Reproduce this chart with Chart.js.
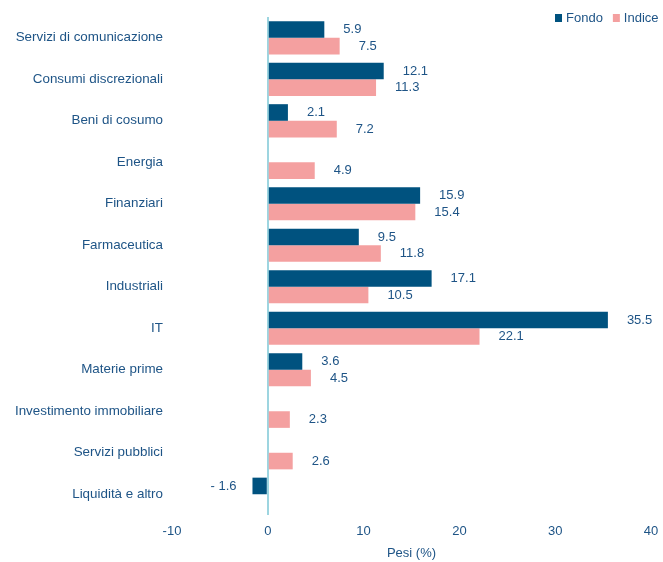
<!DOCTYPE html>
<html>
<head>
<meta charset="utf-8">
<script src="https://cdn.jsdelivr.net/npm/chart.js@4/dist/chart.umd.min.js"></script>
<style>
  html, body { margin: 0; padding: 0; background: #fff; }
  #wrap { width: 663px; height: 562px; }
</style>
</head>
<body>
<div id="wrap"><canvas id="pesi-chart"></canvas></div>
<script>
// dati
const categories = [
  'Servizi di comunicazione',
  'Consumi discrezionali',
  'Beni di cosumo',
  'Energia',
  'Finanziari',
  'Farmaceutica',
  'Industriali',
  'IT',
  'Materie prime',
  'Investimento immobiliare',
  'Servizi pubblici',
  'Liquidità e altro',
];
const fondo = [5.9, 12.1, 2.1, null, 15.9, 9.5, 17.1, 35.5, 3.6, null, null, -1.6];
const indice = [7.5, 11.3, 7.2, 4.9, 15.4, 11.8, 10.5, 22.1, 4.5, 2.3, 2.6, null];
const xTicks = [-10, 0, 10, 20, 30, 40];

const TEXT = '#1e5486';
const FONT = "'Liberation Sans', Arial, sans-serif";

// etichette valori accanto alle barre
const valueLabels = {
  id: 'valueLabels',
  afterDatasetsDraw(chart) {
    const ctx = chart.ctx;
    ctx.save();
    ctx.font = '13px ' + FONT;
    ctx.fillStyle = TEXT;
    ctx.textBaseline = 'middle';
    chart.data.datasets.forEach((ds, i) => {
      const meta = chart.getDatasetMeta(i);
      meta.data.forEach((bar, j) => {
        const v = ds.data[j];
        if (v === null || v === undefined) return;
        if (v < 0) {
          ctx.textAlign = 'right';
          ctx.fillText('- ' + Math.abs(v).toFixed(1), bar.x - 16, bar.y);
        } else {
          ctx.textAlign = 'left';
          ctx.fillText(v.toFixed(1), bar.x + 19, bar.y);
        }
      });
    });
    ctx.restore();
  },
};

// legenda in alto a destra
const topLegend = {
  id: 'topLegend',
  afterDraw(chart) {
    const ctx = chart.ctx;
    ctx.save();
    ctx.font = '13px ' + FONT;
    ctx.textBaseline = 'middle';
    ctx.textAlign = 'left';
    let x = 555;
    const y = 18;
    chart.data.datasets.forEach((ds) => {
      ctx.fillStyle = ds.backgroundColor;
      ctx.fillRect(x, y - 4, 7, 8);
      ctx.fillStyle = TEXT;
      ctx.fillText(ds.label, x + 11, y);
      x += 11 + ctx.measureText(ds.label).width + 10;
    });
    ctx.restore();
  },
};

const config = {
  type: 'bar',
  data: {
    labels: categories,
    datasets: [
      {
        label: 'Fondo',
        data: fondo,
        backgroundColor: '#00527f',
        categoryPercentage: 0.8,
        barPercentage: 1.0,
      },
      {
        label: 'Indice',
        data: indice,
        backgroundColor: '#f4a0a0',
        categoryPercentage: 0.8,
        barPercentage: 1.0,
      },
    ],
  },
  options: {
    indexAxis: 'y',
    responsive: true,
    maintainAspectRatio: false,
    animation: false,
    layout: {
      padding: { top: 15, right: 12, bottom: 0, left: 0 },
    },
    plugins: {
      legend: { display: false },
      tooltip: { enabled: false },
    },
    scales: {
      x: {
        min: -10,
        max: 40,
        afterBuildTicks(scale) {
          scale.ticks = xTicks.map((v) => ({ value: v }));
        },
        afterFit(scale) {
          scale.height = 47;
          scale.paddingLeft = 0;
          scale.paddingRight = 0;
        },
        grid: {
          drawTicks: false,
          lineWidth: 2,
          color: (c) => (c.tick && c.tick.value === 0 ? '#9dd5e0' : 'rgba(0,0,0,0)'),
        },
        border: { display: false },
        ticks: {
          padding: 9,
          color: TEXT,
          font: { family: FONT, size: 13 },
        },
        title: {
          display: true,
          text: 'Pesi (%)',
          color: TEXT,
          font: { family: FONT, size: 13 },
          padding: { top: 0, bottom: 1 },
        },
      },
      y: {
        afterFit(scale) {
          scale.width = 172;
        },
        grid: { display: false, drawTicks: false },
        border: { display: false },
        ticks: {
          padding: 9,
          color: TEXT,
          font: { family: FONT, size: 13.4 },
        },
      },
    },
  },
  plugins: [valueLabels, topLegend],
};

const pesiChart = new Chart(document.getElementById('pesi-chart'), config);
</script>
</body>
</html>
